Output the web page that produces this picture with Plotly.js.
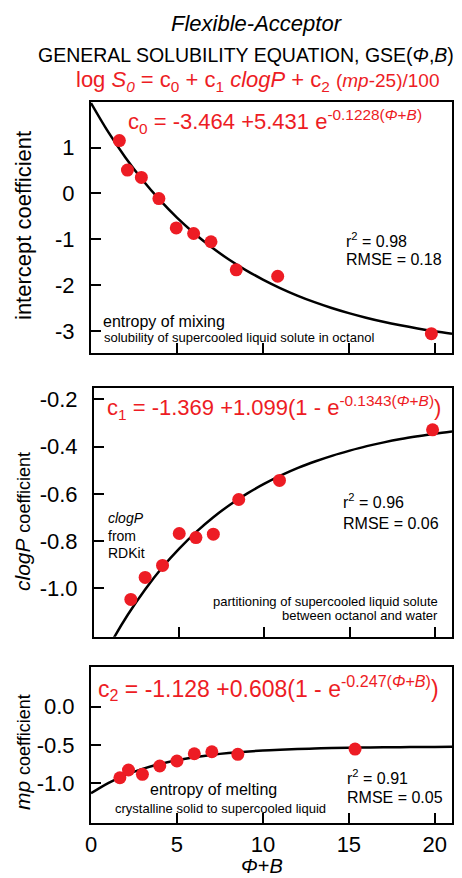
<!DOCTYPE html>
<html>
<head>
<meta charset="utf-8">
<script src="https://cdn.plot.ly/plotly-3.0.1.min.js"></script>
<style>html,body{margin:0;padding:0;background:#fff;}#chart{width:462px;height:878px;}</style>
</head>
<body>
<div id="chart"></div>
<script>
// ---- data ----
const phiB_c0 = [1.65, 2.12, 2.93, 3.95, 4.96, 5.97, 6.98, 8.45, 10.86, 19.8];
const c0_vals = [1.15, 0.51, 0.35, -0.11, -0.75, -0.87, -1.05, -1.66, -1.80, -3.05];

const phiB_c1 = [2.16, 3.0, 4.02, 5.0, 5.98, 7.0, 8.49, 10.88, 19.86];
const c1_vals = [-1.047, -0.954, -0.903, -0.768, -0.785, -0.771, -0.624, -0.543, -0.329];

const phiB_c2 = [1.68, 2.18, 2.99, 4.0, 5.0, 6.01, 7.03, 8.54, 15.36];
const c2_vals = [-0.926, -0.825, -0.882, -0.773, -0.708, -0.613, -0.587, -0.621, -0.552];

// fitted curves as drawn (sampled along Φ+B)
const fitX = [0,1,2,3,4,5,6,7,8,9,10,11,12,13,14,15,16,17,18,19,20,21];
const fit_c0 = [1.967,1.339,0.784,0.293,-0.141,-0.525,-0.864,-1.165,-1.431,-1.666,-1.873,-2.057,-2.220,-2.364,-2.491,-2.603,-2.703,-2.791,-2.868,-2.937,-2.998,-3.052];
const fit_c1 = [-1.369,-1.231,-1.110,-1.005,-0.912,-0.832,-0.761,-0.699,-0.645,-0.598,-0.557,-0.521,-0.489,-0.462,-0.438,-0.417,-0.398,-0.382,-0.368,-0.356,-0.345,-0.336];
const fit_c2 = [-1.128,-0.995,-0.891,-0.810,-0.746,-0.697,-0.658,-0.628,-0.604,-0.586,-0.571,-0.560,-0.551,-0.545,-0.539,-0.535,-0.532,-0.529,-0.527,-0.526,-0.524,-0.523];

const xTicks = [0, 5, 10, 15, 20];
const c0Ticks = [1, 0, -1, -2, -3];
const c1Ticks = [-0.2, -0.4, -0.6, -0.8, -1.0];
const c2Ticks = [0.0, -0.5, -1.0];

// ---- styling ----
const W = 462, H = 878;
const RED = '#ed1c24';
const FONT = 'Liberation Sans, Arial, sans-serif';
const px = x => x / W;
const py = y => 1 - y / H;

function pts(x, y, xa, ya) {
  return {x: x, y: y, xaxis: xa, yaxis: ya, type: 'scatter', mode: 'markers',
    marker: {color: RED, size: 13, line: {width: 0}}, cliponaxis: true, hoverinfo: 'skip'};
}
function fit(x, y, xa, ya) {
  return {x: x, y: y, xaxis: xa, yaxis: ya, type: 'scatter', mode: 'lines',
    line: {color: '#000', width: 2.5, shape: 'spline'}, hoverinfo: 'skip'};
}

const data = [
  fit(fitX, fit_c0, 'x', 'y'),
  pts(phiB_c0, c0_vals, 'x', 'y'),
  fit(fitX, fit_c1, 'x2', 'y2'),
  pts(phiB_c1, c1_vals, 'x2', 'y2'),
  fit(fitX, fit_c2, 'x3', 'y3'),
  pts(phiB_c2, c2_vals, 'x3', 'y3')
];

function xax(dom, anchor, labels) {
  return {domain: dom, anchor: anchor, range: [0, 21], tickmode: 'array', tickvals: xTicks,
    ticktext: xTicks.map(String), showticklabels: labels, ticks: 'inside', ticklen: 10, tickwidth: 2,
    tickcolor: '#000', showline: true, mirror: true, linecolor: '#000', linewidth: 2,
    showgrid: false, zeroline: false, tickfont: {family: FONT, size: 22, color: '#000'}};
}
function yax(dom, anchor, range, ticks, fmt) {
  return {domain: dom, anchor: anchor, range: range, tickmode: 'array', tickvals: ticks,
    ticktext: ticks.map(v => fmt(v)), ticks: 'inside', ticklen: 10, tickwidth: 2, tickcolor: '#000',
    showline: true, mirror: true, linecolor: '#000', linewidth: 2, showgrid: false, zeroline: false,
    ticklabelstandoff: 10, tickfont: {family: FONT, size: 22, color: '#000'}};
}

function ann(text, x, y, size, opts) {
  return Object.assign({text: text, x: px(x), y: py(y), xref: 'paper', yref: 'paper',
    showarrow: false, xanchor: 'left', yanchor: 'middle', font: {family: FONT, size: size, color: '#000'}}, opts || {});
}
const PB = '(<i>Φ</i>+<i>B</i>)';

const annotations = [
  ann('<i>Flexible-Acceptor</i>', 257, 24, 22, {xanchor: 'center'}),
  ann('GENERAL SOLUBILITY EQUATION, GSE(<i>Φ</i>,<i>B</i>)', 246, 55, 19.5, {xanchor: 'center'}),
  ann('log <i>S<sub>0</sub></i> = c<sub>0</sub> + c<sub>1</sub> <i>clogP</i> + c<sub>2</sub> <span style="font-size:19px">(<i>mp</i>-25)/100</span>',
      257, 81, 22, {xanchor: 'center', font: {family: FONT, size: 22, color: RED}}),

  // panel 1
  ann('c<sub>0</sub> = -3.464 +5.431 e<sup>-0.1228' + PB + '</sup>', 126, 121, 22, {font: {family: FONT, size: 22, color: RED}}),
  ann('r<sup>2</sup> = 0.98', 344, 240, 16),
  ann('RMSE = 0.18', 344, 259, 16),
  ann('entropy of mixing', 101, 321, 16),
  ann('solubility of supercooled liquid solute in octanol', 102, 337, 13),
  ann('intercept coefficient', 23, 226, 22, {xanchor: 'center', textangle: -90}),

  // panel 2
  ann('c<sub>1</sub> = -1.369 +1.099(1 - e<sup>-0.1343' + PB + '</sup>)', 105, 407, 22, {font: {family: FONT, size: 22, color: RED}}),
  ann('r<sup>2</sup> = 0.96', 341, 501, 16),
  ann('RMSE = 0.06', 341, 523, 16),
  ann('<i>clogP</i>', 106, 518, 14),
  ann('from', 106, 536, 14),
  ann('RDKit', 106, 553, 14),
  ann('partitioning of supercooled liquid solute', 440, 601, 13, {xanchor: 'right'}),
  ann('between octanol and water', 440, 615, 13, {xanchor: 'right'}),
  ann('<i>clogP</i> <span style="font-size:18px">coefficient</span>', 22, 522, 21, {xanchor: 'center', textangle: -90}),

  // panel 3
  ann('c<sub>2</sub> = -1.128 +0.608(1 - e<sup>-0.247' + PB + '</sup>)', 96, 688, 23, {font: {family: FONT, size: 23, color: RED}}),
  ann('r<sup>2</sup> = 0.91', 345, 777, 16),
  ann('RMSE = 0.05', 345, 797, 16),
  ann('entropy of melting', 213, 789, 16, {xanchor: 'center'}),
  ann('crystalline solid to supercooled liquid', 220, 808, 13, {xanchor: 'center'}),
  ann('<i>mp</i> <span style="font-size:18px">coefficient</span>', 22, 752, 21, {xanchor: 'center', textangle: -90}),

  // x title
  ann('<i>Φ</i>+<i>B</i>', 262, 866, 20, {xanchor: 'center'})
];

const layout = {
  width: W, height: H, margin: {l: 0, r: 0, t: 0, b: 0},
  paper_bgcolor: '#fff', plot_bgcolor: '#fff', showlegend: false,
  font: {family: FONT, color: '#000'},
  xaxis: xax([px(91), px(452)], 'y', false),
  yaxis: yax([py(353), py(102)], 'x', [-3.47, 1.99], c0Ticks, v => String(v)),
  xaxis2: xax([px(94), px(452)], 'y2', false),
  yaxis2: yax([py(636.7), py(388.3)], 'x2', [-1.205, -0.153], c1Ticks, v => v.toFixed(1)),
  xaxis3: xax([px(91), px(452)], 'y3', true),
  yaxis3: yax([py(823.3), py(667.3)], 'x3', [-1.52, 0.514], c2Ticks, v => v.toFixed(1)),
  annotations: annotations
};

Plotly.newPlot('chart', data, layout, {staticPlot: true, displayModeBar: false});
</script>
</body>
</html>
